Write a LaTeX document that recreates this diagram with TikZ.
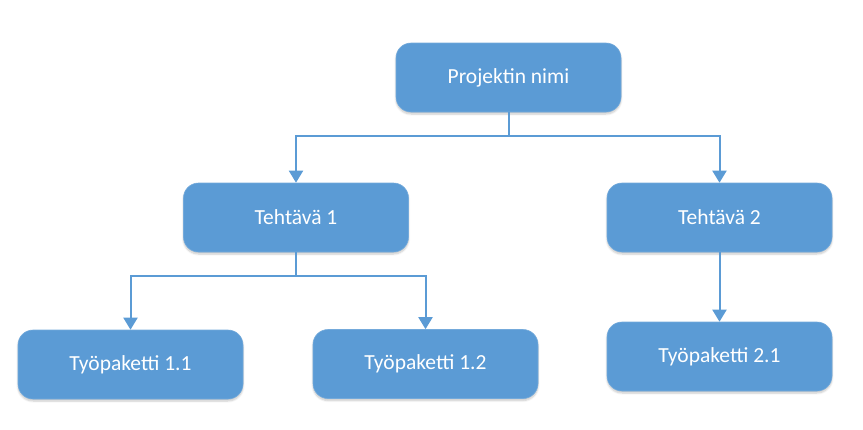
\documentclass[tikz,border=0pt]{standalone}
\usepackage{fontspec}
\setmainfont{Carlito}
\usetikzlibrary{arrows.meta,shadows.blur}
\definecolor{boxblue}{HTML}{5B9BD5}
\definecolor{lineblue}{HTML}{5B9BD5}
\tikzset{
  wbox/.style={draw=boxblue!85!white, line width=0.6pt, fill=boxblue, rounded corners=15pt,
    minimum width=225pt, minimum height=69pt, inner sep=0pt,
    text=white, font=\fontsize{21.5}{25}\selectfont,
    blur shadow={shadow xshift=0pt, shadow yshift=-2pt, shadow blur steps=6, shadow opacity=22}},
  conn/.style={draw=lineblue, line width=2pt, -{Triangle[width=14pt,length=12pt]}},
  plain/.style={draw=lineblue, line width=2pt}
}
\begin{document}
\begin{tikzpicture}[x=1pt,y=-1pt]
\useasboundingbox (0,0) rectangle (863,429);
\node[wbox] (top) at (508.5,77.5) {Projektin nimi};
\node[wbox] (t1) at (296,217.5) {Tehtävä 1};
\node[wbox] (t2) at (719.5,217.5) {Tehtävä 2};
\node[wbox] (w11) at (130.5,364.5) {Työpaketti 1.1};
\node[wbox] (w12) at (425.5,364) {Työpaketti 1.2};
\node[wbox] (w21) at (719.5,356.5) {Työpaketti 2.1};
\coordinate (j1) at (508.5,136);
\coordinate (j2) at (296,276);
\draw[plain] (top.south) -- (j1);
\draw[conn] (j1) -| (t1.north);
\draw[conn] (j1) -| (t2.north);
\draw[plain] (t1.south) -- (j2);
\draw[conn] (j2) -| (w11.north);
\draw[conn] (j2) -| (w12.north);
\draw[conn] (t2.south) -- (w21.north);
\end{tikzpicture}
\end{document}
